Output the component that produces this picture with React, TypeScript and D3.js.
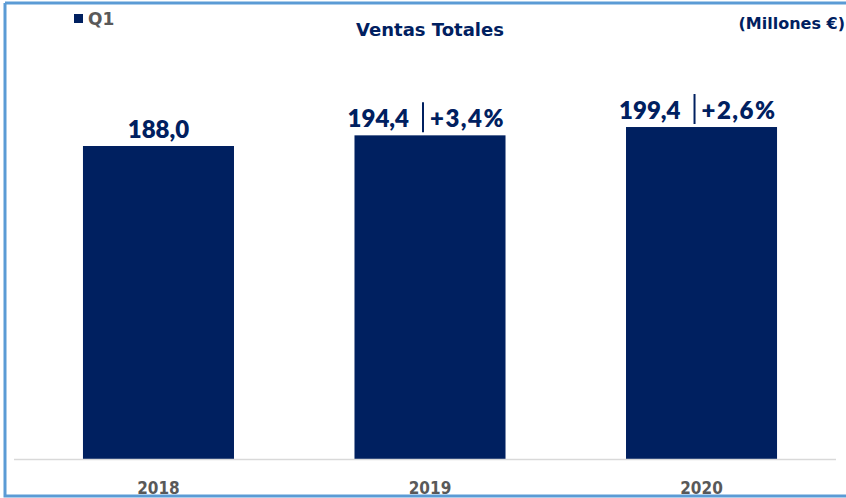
import React from "react";
import * as d3 from "d3";

const years = ["2018", "2019", "2020"];
const sales = [188.0, 194.4, 199.4];
const growth = ["", "+3,4%", "+2,6%"];
const legendLabel = "Q1";
const title = "Ventas Totales";
const units = "(Millones €)";

const W = 846;
const H = 498;
const NAVY = "#002060";

export default function App() {
  const x = d3.scaleBand<string>().domain(years).range([14, 846]).paddingInner(0.4438).paddingOuter(0.254);
  const y = d3.scaleLinear().domain([0, 188]).range([459, 146]);
  const fmt = (v: number) => v.toFixed(1).replace(".", ",");
  const font = "Lato, 'Open Sans', sans-serif";
  const wide = "'DejaVu Sans', sans-serif";

  return (
    <svg width={W} height={H} style={{ position: "absolute", left: 0, top: 0, background: "#fff" }}>
      {/* frame */}
      <path d={`M5,3 H${W} M5,3 V496 H${W}`} fill="none" stroke="#5B9BD5" strokeWidth={3} />
      {/* legend */}
      <rect x={74} y={14} width={9} height={9} fill={NAVY} />
      <text x={88} y={25} fontFamily={wide} fontWeight={700} fontSize={17} fill="#595959">{legendLabel}</text>
      {/* title */}
      <text x={430} y={36} textAnchor="middle" fontFamily={wide} fontWeight={700} fontSize={18} fill={NAVY}>{title}</text>
      <text x={845} y={29} textAnchor="end" fontFamily={wide} fontWeight={700} fontSize={16} fill={NAVY}>{units}</text>
      {/* bars */}
      {years.map((yr, i) => (
        <rect key={yr} x={x(yr)} y={y(sales[i])} width={x.bandwidth()} height={y(0) - y(sales[i])} fill={NAVY} />
      ))}
      {/* axis line */}
      <line x1={14} x2={836} y1={y(0) + 0.5} y2={y(0) + 0.5} stroke="#D9D9D9" strokeWidth={1.5} />
      {/* year labels */}
      {years.map((yr) => (
        <text key={yr} x={(x(yr) as number) + x.bandwidth() / 2} y={494} textAnchor="middle"
          fontFamily="'DejaVu Sans Condensed', 'DejaVu Sans', sans-serif" fontWeight={700} fontSize={17} fill="#595959">{yr}</text>
      ))}
      {/* value labels */}
      {years.map((yr, i) => {
        const cx = (x(yr) as number) + x.bandwidth() / 2;
        const top = y(sales[i]);
        const base = top - 8;
        if (!growth[i]) {
          return (
            <text key={yr} x={cx} y={base} textAnchor="middle" fontFamily={font} fontWeight={800} fontSize={24} fill={NAVY}>{fmt(sales[i])}</text>
          );
        }
        return (
          <g key={yr}>
            <text x={cx - 21} y={base} textAnchor="end" fontFamily={font} fontWeight={800} fontSize={24} fill={NAVY}>{fmt(sales[i])}</text>
            <line x1={cx - 7} x2={cx - 7} y1={top - 33} y2={top - 3} stroke={NAVY} strokeWidth={2} />
            <text x={cx} y={base} textAnchor="start" fontFamily={font} fontWeight={800} fontSize={24} letterSpacing={1.5} fill={NAVY}>{growth[i]}</text>
          </g>
        );
      })}
    </svg>
  );
}
